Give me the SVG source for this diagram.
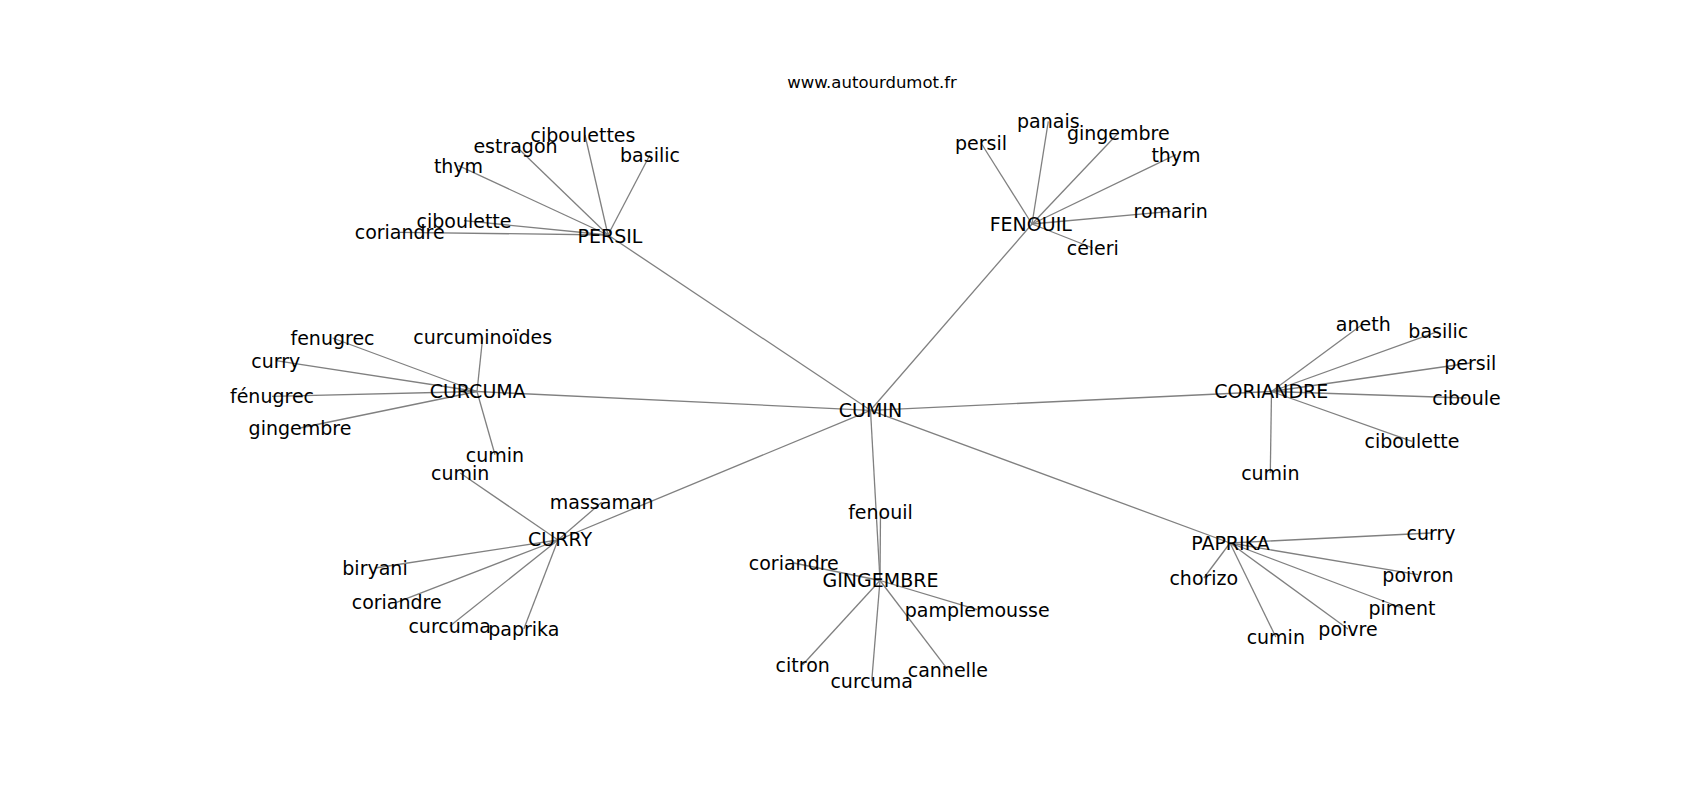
<svg xmlns="http://www.w3.org/2000/svg" width="1700" height="800" viewBox="0 0 1700 800">
<style>
text{font-family:"DejaVu Sans","Liberation Sans",sans-serif;font-size:19px;fill:#000;text-anchor:middle}
.title{font-size:16.5px}
#edges line{stroke:#808080;stroke-width:1.3}
</style>
<rect width="1700" height="800" fill="#fff"/>
<text class="title" x="872" y="88">www.autourdumot.fr</text>
<g id="edges">
<line x1="870.5" y1="410.3" x2="608" y2="235"/>
<line x1="870.5" y1="410.3" x2="1032" y2="224"/>
<line x1="870.5" y1="410.3" x2="477" y2="391.5"/>
<line x1="870.5" y1="410.3" x2="1271.5" y2="391.5"/>
<line x1="870.5" y1="410.3" x2="558" y2="540"/>
<line x1="870.5" y1="410.3" x2="880" y2="580.5"/>
<line x1="870.5" y1="410.3" x2="1230" y2="543"/>
<line x1="608" y1="235" x2="585" y2="135"/>
<line x1="608" y1="235" x2="515.5" y2="145.7"/>
<line x1="608" y1="235" x2="650" y2="154.7"/>
<line x1="608" y1="235" x2="458.5" y2="165.7"/>
<line x1="608" y1="235" x2="464" y2="220.7"/>
<line x1="608" y1="235" x2="399.7" y2="232.3"/>
<line x1="1032" y1="224" x2="981" y2="143"/>
<line x1="1032" y1="224" x2="1048.3" y2="121.3"/>
<line x1="1032" y1="224" x2="1118.3" y2="133"/>
<line x1="1032" y1="224" x2="1176" y2="154.7"/>
<line x1="1032" y1="224" x2="1170.7" y2="211.3"/>
<line x1="1032" y1="224" x2="1092.8" y2="248"/>
<line x1="477" y1="391.5" x2="332.5" y2="338"/>
<line x1="477" y1="391.5" x2="482.7" y2="337.3"/>
<line x1="477" y1="391.5" x2="275.8" y2="360.7"/>
<line x1="477" y1="391.5" x2="272" y2="396.3"/>
<line x1="477" y1="391.5" x2="300" y2="428"/>
<line x1="477" y1="391.5" x2="495" y2="454.7"/>
<line x1="1271.5" y1="391.5" x2="1363.3" y2="323.7"/>
<line x1="1271.5" y1="391.5" x2="1438.3" y2="331.3"/>
<line x1="1271.5" y1="391.5" x2="1470.3" y2="363"/>
<line x1="1271.5" y1="391.5" x2="1466.5" y2="398"/>
<line x1="1271.5" y1="391.5" x2="1412" y2="441.3"/>
<line x1="1271.5" y1="391.5" x2="1270.3" y2="473"/>
<line x1="1230" y1="543" x2="1431" y2="533"/>
<line x1="1230" y1="543" x2="1203.8" y2="578"/>
<line x1="1230" y1="543" x2="1418" y2="574.7"/>
<line x1="1230" y1="543" x2="1402" y2="608"/>
<line x1="1230" y1="543" x2="1348" y2="629"/>
<line x1="1230" y1="543" x2="1275.8" y2="637"/>
<line x1="558" y1="540" x2="460.2" y2="473"/>
<line x1="558" y1="540" x2="601.7" y2="502.3"/>
<line x1="558" y1="540" x2="375" y2="568"/>
<line x1="558" y1="540" x2="396.7" y2="602.3"/>
<line x1="558" y1="540" x2="449.7" y2="626.3"/>
<line x1="558" y1="540" x2="523.8" y2="629"/>
<line x1="880" y1="580.5" x2="880.5" y2="512.3"/>
<line x1="880" y1="580.5" x2="793.8" y2="563"/>
<line x1="880" y1="580.5" x2="977.2" y2="609.7"/>
<line x1="880" y1="580.5" x2="802.7" y2="664.7"/>
<line x1="880" y1="580.5" x2="871.7" y2="681.3"/>
<line x1="880" y1="580.5" x2="947.8" y2="669.7"/>
</g>
<g id="n-cumin"><text x="870.5" y="417.3">CUMIN</text></g>
<g id="n-persil"><text x="610" y="243.3">PERSIL</text></g>
<g id="n-fenouil"><text x="1030.8" y="231">FENOUIL</text></g>
<g id="n-curcuma"><text x="477.7" y="398.3">CURCUMA</text></g>
<g id="n-coriandre"><text x="1271.3" y="398.3">CORIANDRE</text></g>
<g id="n-curry"><text x="560" y="546">CURRY</text></g>
<g id="n-gingembre"><text x="880.5" y="586.7">GINGEMBRE</text></g>
<g id="n-paprika"><text x="1230.5" y="550">PAPRIKA</text></g>
<g id="n-persil-ciboulettes"><text x="583" y="141.7">ciboulettes</text></g>
<g id="n-persil-estragon"><text x="515.5" y="152.7">estragon</text></g>
<g id="n-persil-basilic"><text x="650" y="161.7">basilic</text></g>
<g id="n-persil-thym"><text x="458.5" y="172.7">thym</text></g>
<g id="n-persil-ciboulette"><text x="464" y="227.7">ciboulette</text></g>
<g id="n-persil-coriandre"><text x="399.7" y="239.3">coriandre</text></g>
<g id="n-fenouil-persil"><text x="981" y="150">persil</text></g>
<g id="n-fenouil-panais"><text x="1048.3" y="128.3">panais</text></g>
<g id="n-fenouil-gingembre"><text x="1118.3" y="140">gingembre</text></g>
<g id="n-fenouil-thym"><text x="1176" y="161.7">thym</text></g>
<g id="n-fenouil-romarin"><text x="1170.7" y="218.3">romarin</text></g>
<g id="n-fenouil-celeri"><text x="1092.8" y="255">céleri</text></g>
<g id="n-curcuma-fenugrec"><text x="332.5" y="345">fenugrec</text></g>
<g id="n-curcuma-curcuminoides"><text x="482.7" y="344.3">curcuminoïdes</text></g>
<g id="n-curcuma-curry"><text x="275.8" y="367.7">curry</text></g>
<g id="n-curcuma-fenugrec2"><text x="272" y="403.3">fénugrec</text></g>
<g id="n-curcuma-gingembre"><text x="300" y="435">gingembre</text></g>
<g id="n-curcuma-cumin"><text x="495" y="461.7">cumin</text></g>
<g id="n-coriandre-aneth"><text x="1363.3" y="330.7">aneth</text></g>
<g id="n-coriandre-basilic"><text x="1438.3" y="338.3">basilic</text></g>
<g id="n-coriandre-persil"><text x="1470.3" y="370">persil</text></g>
<g id="n-coriandre-ciboule"><text x="1466.5" y="405">ciboule</text></g>
<g id="n-coriandre-ciboulette"><text x="1412" y="448.3">ciboulette</text></g>
<g id="n-coriandre-cumin"><text x="1270.3" y="480">cumin</text></g>
<g id="n-paprika-curry"><text x="1431" y="540">curry</text></g>
<g id="n-paprika-chorizo"><text x="1203.8" y="585">chorizo</text></g>
<g id="n-paprika-poivron"><text x="1418" y="581.7">poivron</text></g>
<g id="n-paprika-piment"><text x="1402" y="615">piment</text></g>
<g id="n-paprika-poivre"><text x="1348" y="636">poivre</text></g>
<g id="n-paprika-cumin"><text x="1275.8" y="644">cumin</text></g>
<g id="n-curry-cumin"><text x="460.2" y="480">cumin</text></g>
<g id="n-curry-massaman"><text x="601.7" y="509.3">massaman</text></g>
<g id="n-curry-biryani"><text x="375" y="575">biryani</text></g>
<g id="n-curry-coriandre"><text x="396.7" y="609.3">coriandre</text></g>
<g id="n-curry-curcuma"><text x="449.7" y="633.3">curcuma</text></g>
<g id="n-curry-paprika"><text x="523.8" y="636">paprika</text></g>
<g id="n-gingembre-fenouil"><text x="880.5" y="519.3">fenouil</text></g>
<g id="n-gingembre-coriandre"><text x="793.8" y="570">coriandre</text></g>
<g id="n-gingembre-pamplemousse"><text x="977.2" y="616.7">pamplemousse</text></g>
<g id="n-gingembre-citron"><text x="802.7" y="671.7">citron</text></g>
<g id="n-gingembre-curcuma"><text x="871.7" y="688.3">curcuma</text></g>
<g id="n-gingembre-cannelle"><text x="947.8" y="676.7">cannelle</text></g>
</svg>
